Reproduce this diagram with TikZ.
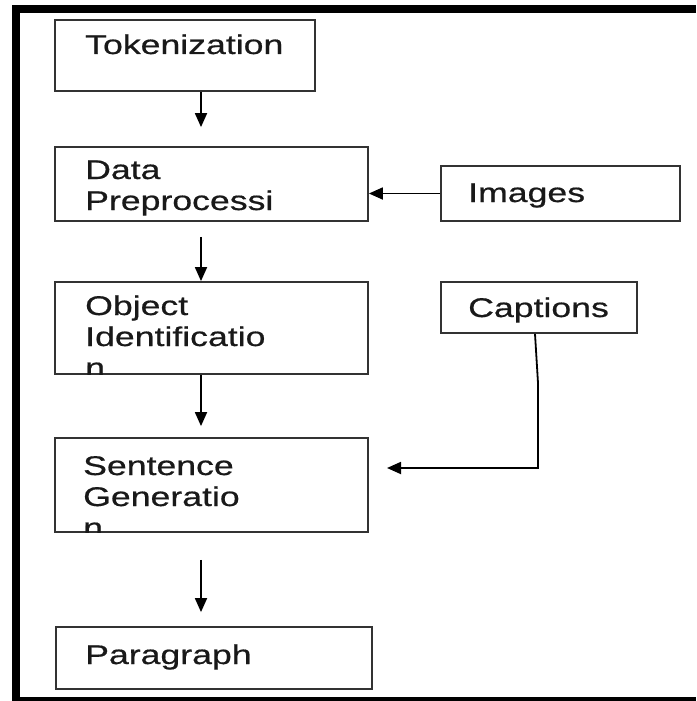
\documentclass[tikz,border=0pt]{standalone}
\usepackage{fontspec}
\setmainfont{Liberation Sans}[FakeStretch=1.32,FakeBold=0.6]
\usetikzlibrary{arrows.meta}
\usetikzlibrary{positioning}

\begin{document}
\begin{tikzpicture}[x=1pt,y=-1pt,>={Triangle[length=14pt,width=12pt]},
  box/.style={draw=black!80,line width=1.8pt,rectangle,inner sep=0pt},
  label text/.style={anchor=base west,inner sep=0pt,text=black!90,
    font={\fontsize{27}{31}\selectfont}},
  flow/.style={->,line width=1.8pt}]

  \useasboundingbox (0,0) rectangle (696,701);
  % frame
  \fill (12,5) rectangle (696,13);
  \fill (12,5) rectangle (20,701);
  \fill (12,697) rectangle (696,701);

  \node[box,minimum width=260pt,minimum height=71pt] (tok) at (185,55.5) {};
  \node[box,minimum width=313pt,minimum height=74pt] (data) at (211.5,184) {};
  \node[box,minimum width=313pt,minimum height=92pt] (obj) at (211.5,328) {};
  \node[box,minimum width=313pt,minimum height=94pt] (sent) at (211.5,485) {};
  \node[box,minimum width=316pt,minimum height=62pt] (para) at (214,658) {};
  \node[box,minimum width=239pt,minimum height=55pt] (img) at (560.5,193.5) {};
  \node[box,minimum width=196pt,minimum height=51pt] (cap) at (539,307.5) {};

  % texts, cut off by their boxes
  \begin{scope}
    \clip (tok.south west) rectangle (tok.north east);
    \node[label text] (toka) at (85,54) {Tokenization};
  \end{scope}
  \begin{scope}
    \clip (data.south west) rectangle (data.north east);
    \node[label text] (dataa) at (85,179) {\vtop{\hbox{Data}\hbox{Preprocessi}}};
  \end{scope}
  \begin{scope}
    \clip (obj.south west) rectangle (obj.north east);
    \node[label text] (obja) at (85,315) {\vtop{\hbox{Object}\hbox{Identificatio}\hbox{n}}};
  \end{scope}
  \begin{scope}
    \clip (sent.south west) rectangle (sent.north east);
    \node[label text] (senta) at (83,475) {\vtop{\hbox{Sentence}\hbox{Generatio}\hbox{n}}};
  \end{scope}
  \node[label text] (paraa) at (85,664) {Paragraph};
  \node[label text] (imga) at (468,202) {Images};
  \node[label text] (capa) at (468,317) {Captions};

  \coordinate (ax) at (201,0);
  \coordinate (captip) at (387,468);

  \draw[flow,shorten >=19pt] (tok.south -| ax) -- (data.north -| ax);
  \draw[flow,shorten <=15pt] (data.south -| ax) -- (obj.north -| ax);
  \draw[flow,shorten >=11pt] (obj.south -| ax) -- (sent.north -| ax);
  \draw[flow,shorten <=27pt,shorten >=14pt] (sent.south -| ax) -- (para.north -| ax);
  \draw[flow] (img.west) -- (img.west -| data.east);
  \draw[flow] (cap.south -| 535,0) -- (538,383) -- (538,468) -- (captip);
\end{tikzpicture}
\end{document}
